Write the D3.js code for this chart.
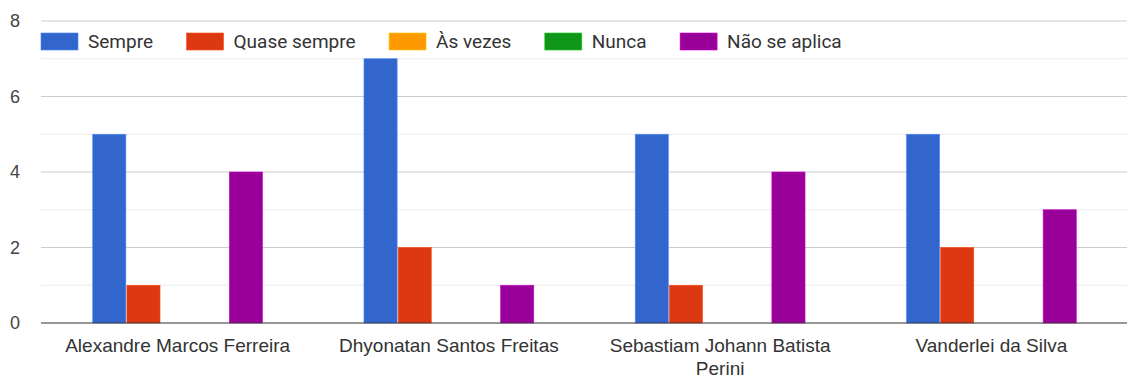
<!DOCTYPE html>
<html>
<head>
<meta charset="utf-8">
<script src="https://cdn.jsdelivr.net/npm/d3@7"></script>
<style>
  body { margin: 0; background: #fff; }
  svg { display: block; font-family: Roboto, Arial, sans-serif; }
</style>
</head>
<body>
<div id="chart"></div>
<script>
// données
const categories = ["Alexandre Marcos Ferreira", "Dhyonatan Santos Freitas", "Sebastiam Johann Batista Perini", "Vanderlei da Silva"];
const seriesNames = ["Sempre", "Quase sempre", "Às vezes", "Nunca", "Não se aplica"];
const seriesColors = ["#3366cc", "#dc3912", "#ff9900", "#109618", "#990099"];
const sempre = [5, 7, 5, 5];
const quaseSempre = [1, 2, 1, 2];
const asVezes = [0, 0, 0, 0];
const nunca = [0, 0, 0, 0];
const naoSeAplica = [4, 1, 4, 3];
const yTicks = [0, 2, 4, 6, 8];
const yMinor = [1, 3, 5, 7];

const series = [sempre, quaseSempre, asVezes, nunca, naoSeAplica];

const width = 1127, height = 378;
const margin = {top: 21, right: 0, bottom: 55, left: 42};

const svg = d3.select("#chart").append("svg")
  .attr("width", width)
  .attr("height", height);

const x0 = d3.scaleBand()
  .domain(categories)
  .range([margin.left, width - margin.right])
  .paddingInner(0.374)
  .paddingOuter(0.187);

const x1 = d3.scaleBand()
  .domain(d3.range(series.length))
  .range([0, x0.bandwidth()])
  .paddingInner(0.03);

const y = d3.scaleLinear()
  .domain([0, 8])
  .range([height - margin.bottom, margin.top]);

// grille
svg.append("g").selectAll("line.minor")
  .data(yMinor)
  .join("line")
  .attr("x1", margin.left - 1).attr("x2", width)
  .attr("y1", d => y(d)).attr("y2", d => y(d))
  .attr("stroke", "#ebebeb");

svg.append("g").selectAll("line.major")
  .data(yTicks.filter(d => d != 0))
  .join("line")
  .attr("x1", margin.left - 1).attr("x2", width)
  .attr("y1", d => y(d)).attr("y2", d => y(d))
  .attr("stroke", "#cccccc");

// axe y
svg.append("g")
  .attr("transform", `translate(${margin.left - 1},0)`)
  .call(d3.axisLeft(y).tickValues(yTicks).tickSize(0).tickPadding(21).tickFormat(d3.format("d")))
  .call(g => g.select(".domain").remove())
  .call(g => g.selectAll("text").attr("fill", "#444").style("font-size", "18px").attr("font-family", null));

// barres
const groups = svg.append("g").selectAll("g")
  .data(categories)
  .join("g")
  .attr("transform", d => `translate(${x0(d)},0)`);

groups.selectAll("rect")
  .data((d, i) => series.map((s, j) => ({j: j, v: s[i]})).filter(e => e.v > 0))
  .join("rect")
  .attr("x", d => x1(d.j))
  .attr("width", x1.bandwidth())
  .attr("y", d => y(d.v))
  .attr("height", d => y(0) - y(d.v))
  .attr("fill", d => seriesColors[d.j])
  .attr("stroke", d => d3.color(seriesColors[d.j]).brighter(0.8))
  .attr("stroke-width", 0.6);

// ligne de base
svg.append("line")
  .attr("x1", margin.left - 1).attr("x2", width)
  .attr("y1", y(0)).attr("y2", y(0))
  .attr("stroke", "#333")
  .attr("stroke-width", 1.2);

// axe x
const xAxis = svg.append("g")
  .attr("transform", `translate(0,${y(0)})`)
  .call(d3.axisBottom(x0).tickSize(0).tickPadding(16))
  .call(g => g.select(".domain").remove());

xAxis.selectAll("text")
  .attr("fill", "#333")
  .attr("font-family", null)
  .style("font-size", "19px")
  .each(function(d) {
    const t = d3.select(this);
    const words = d.split(" ");
    if (t.node().getComputedTextLength() > 260) {
      t.text(null);
      t.append("tspan").attr("x", 0).attr("dy", "0.71em").text(words.slice(0, -1).join(" "));
      t.append("tspan").attr("x", 0).attr("dy", "1.18em").text(words[words.length - 1]);
      t.attr("dy", null);
    }
  });

// légende
const legend = svg.append("g").attr("transform", `translate(${margin.left - 1},33)`);
let lx = 0;
seriesNames.forEach((name, i) => {
  const item = legend.append("g").attr("transform", `translate(${lx},0)`);
  item.append("rect")
    .attr("width", 37).attr("height", 17)
    .attr("fill", seriesColors[i])
    .attr("stroke", d3.color(seriesColors[i]).brighter(0.8))
    .attr("stroke-width", 0.6);
  const txt = item.append("text")
    .attr("x", 47).attr("y", 8.5)
    .attr("dy", "0.35em")
    .attr("fill", "#333")
    .style("font-size", "19px")
    .text(name);
  lx += 47 + txt.node().getComputedTextLength() + 33.5;
});
</script>
</body>
</html>
